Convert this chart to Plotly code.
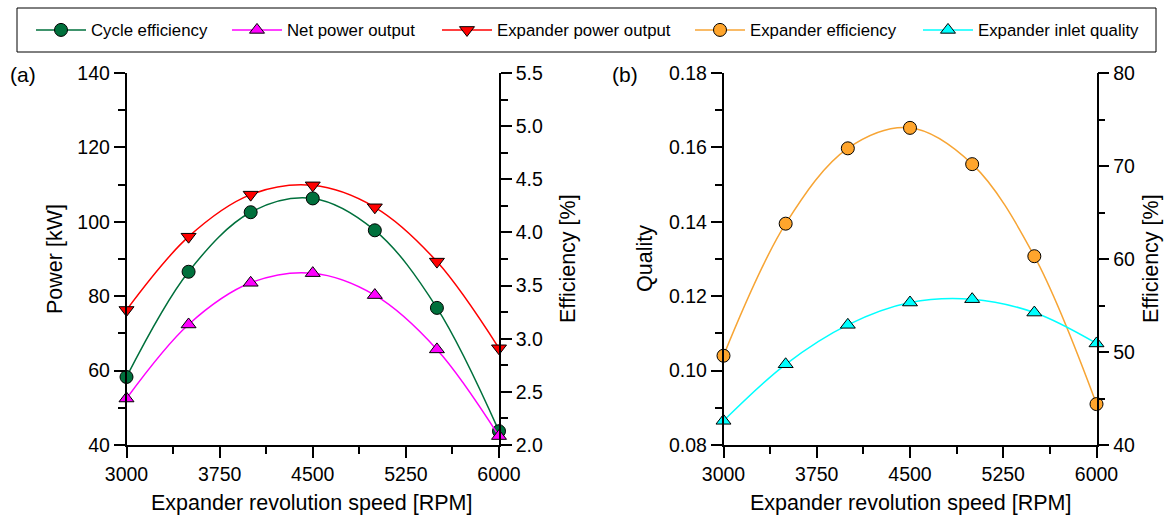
import plotly.graph_objects as go

rpm = [3000, 3500, 4000, 4500, 5000, 5500, 6000]
cycle_eff = [2.64, 3.63, 4.19, 4.32, 4.02, 3.29, 2.13]
net_power = [52.5, 72.4, 83.6, 86.2, 80.3, 65.7, 42.4]
exp_power = [76.3, 96.0, 107.3, 109.8, 103.9, 89.3, 66.0]
exp_eff = [49.6, 63.8, 71.9, 74.1, 70.2, 60.3, 44.4]
inlet_quality = [0.0865, 0.1017, 0.1123, 0.1183, 0.1192, 0.1156, 0.1073]

x_ticks = [3000, 3750, 4500, 5250, 6000]

W, H = 1170, 516
FONT = "Liberation Sans, Arial, sans-serif"
TICK_SIZE = 19.5
TITLE_SIZE = 21.5
LEG_SIZE = 16.8

def px(x):
    return x / W

def py(y):
    return 1 - y / H

xa = [px(126.5), px(499)]
xb = [px(723.5), px(1096.5)]
yd = [py(445), py(73)]

fig = go.Figure()

mk_line = dict(color="black", width=1)

fig.add_trace(go.Scatter(x=rpm, y=cycle_eff, name="Cycle efficiency", mode="lines+markers",
                         line=dict(color="#00703C", width=1.5, shape="spline"),
                         marker=dict(symbol="circle", size=13, color="#00703C", line=mk_line),
                         xaxis="x", yaxis="y", cliponaxis=False, legend="legend"))
fig.add_trace(go.Scatter(x=rpm, y=net_power, name="Net power output", mode="lines+markers",
                         line=dict(color="#FF00FF", width=1.5, shape="spline"),
                         marker=dict(symbol="triangle-up", size=13, color="#FF00FF", line=mk_line),
                         xaxis="x", yaxis="y2", cliponaxis=False, legend="legend2"))
fig.add_trace(go.Scatter(x=rpm, y=exp_power, name="Expander power output", mode="lines+markers",
                         line=dict(color="#FF0000", width=1.5, shape="spline"),
                         marker=dict(symbol="triangle-down", size=13, color="#FF0000", line=mk_line),
                         xaxis="x", yaxis="y2", cliponaxis=False, legend="legend3"))
fig.add_trace(go.Scatter(x=rpm, y=exp_eff, name="Expander efficiency", mode="lines+markers",
                         line=dict(color="#F7A535", width=1.5, shape="spline"),
                         marker=dict(symbol="circle", size=13, color="#FFA52C", line=mk_line),
                         xaxis="x2", yaxis="y3", cliponaxis=False, legend="legend4"))
fig.add_trace(go.Scatter(x=rpm, y=inlet_quality, name="Expander inlet quality", mode="lines+markers",
                         line=dict(color="#00FFFF", width=1.5, shape="spline"),
                         marker=dict(symbol="triangle-up", size=13, color="#00FFFF", line=mk_line),
                         xaxis="x2", yaxis="y4", cliponaxis=False, legend="legend5"))

axis_common = dict(showline=True, linecolor="black", linewidth=1.5, ticks="outside",
                   ticklen=11, tickwidth=1.5, tickcolor="black", showgrid=False, zeroline=False,
                   tickfont=dict(size=TICK_SIZE, color="black", family=FONT), automargin=False)

def minor(d):
    return dict(ticks="outside", ticklen=7, tickwidth=1.5, tickcolor="black", dtick=d, showgrid=False)

def leg(x_left):
    return dict(orientation="h", x=px(x_left), xanchor="left", y=py(30), yanchor="middle",
                font=dict(size=LEG_SIZE, family=FONT, color="black"), bgcolor="rgba(0,0,0,0)",
                borderwidth=0, itemwidth=50)

leg_x = [31, 227, 437, 690, 918]

fig.update_layout(
    width=W, height=H,
    margin=dict(l=0, r=0, t=0, b=0),
    paper_bgcolor="white", plot_bgcolor="white",
    font=dict(family=FONT, color="black"),
    showlegend=True,
    legend=leg(leg_x[0]), legend2=leg(leg_x[1]), legend3=leg(leg_x[2]),
    legend4=leg(leg_x[3]), legend5=leg(leg_x[4]),
    xaxis=dict(domain=xa, range=[3000, 6000], tickvals=x_ticks, anchor="y",
               minor=minor(375), **axis_common),
    yaxis=dict(domain=yd, range=[2.0, 5.5], dtick=0.5, tick0=2.0, tickformat=".1f",
               side="right", anchor="x", minor=minor(0.25), **axis_common),
    yaxis2=dict(range=[40, 140], dtick=20, tick0=40, side="left", overlaying="y", anchor="x",
                minor=minor(10), **axis_common),
    xaxis2=dict(domain=xb, range=[3000, 6000], tickvals=x_ticks, anchor="y3",
                minor=minor(375), **axis_common),
    yaxis3=dict(domain=yd, range=[40, 80], dtick=10, tick0=40, side="right", anchor="x2",
                minor=minor(5), **axis_common),
    yaxis4=dict(range=[0.08, 0.18], dtick=0.02, tick0=0.08, tickformat=".2f", side="left",
                overlaying="y3", anchor="x2", minor=minor(0.01), **axis_common),
)

fig.add_shape(type="rect", xref="paper", yref="paper", x0=px(17), x1=px(1156), y0=py(52), y1=py(8),
              line=dict(color="black", width=1), fillcolor="rgba(0,0,0,0)", layer="below")

def ann(text, x, y, angle=0, size=TITLE_SIZE, xanchor="center"):
    fig.add_annotation(text=text, x=px(x), y=py(y), xref="paper", yref="paper", showarrow=False,
                       textangle=angle, xanchor=xanchor, yanchor="middle",
                       font=dict(size=size, family=FONT, color="black"))

ann("(a)", 23, 74, size=21)
ann("(b)", 625, 74, size=21)
ann("Expander revolution speed [RPM]", 311, 503)
ann("Expander revolution speed [RPM]", 910, 503)
ann("Power [kW]", 55, 259, angle=-90)
ann("Efficiency [%]", 568, 259, angle=-90)
ann("Quality", 645, 259, angle=-90)
ann("Efficiency [%]", 1151, 259, angle=-90)

fig.write_html("out.html", config={"displayModeBar": False},
               post_script="document.body.style.margin='0';document.body.style.padding='0';")
